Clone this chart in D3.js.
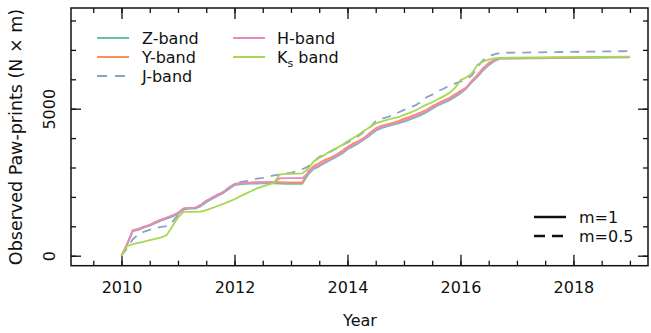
<!DOCTYPE html>
<html>
<head>
<meta charset="utf-8">
<script src="https://cdn.jsdelivr.net/npm/d3@7"></script>
<style>
  body { margin: 0; background: #fff; }
  svg text { font-family: "DejaVu Sans", sans-serif; fill: #111; }
</style>
</head>
<body>
<svg id="chart" width="651" height="333"></svg>
<script>
// time grid: every 0.1 yr from 2010.0 to 2016.7, then the end of the plateau
const years = d3.range(68).map(i => +(2010 + i / 10).toFixed(1)).concat([2019.0]);

const zBand = [0, 380, 840, 880, 960, 1020, 1110, 1190, 1260, 1330,
  1420, 1570, 1600, 1600, 1680, 1820, 1930, 2030, 2130, 2270,
  2400, 2430, 2440, 2450, 2455, 2460, 2460, 2460, 2450, 2445,
  2445, 2445, 2445, 2750, 2950, 3040, 3150, 3260, 3360, 3470,
  3620, 3720, 3830, 3960, 4100, 4250, 4340, 4400, 4450, 4500,
  4560, 4630, 4700, 4780, 4880, 5000, 5110, 5200, 5280, 5400,
  5520, 5680, 5900, 6080, 6300, 6480, 6620, 6700, 6750];

const yBand = [0, 400, 870, 910, 990, 1050, 1150, 1230, 1300, 1370,
  1460, 1610, 1630, 1630, 1720, 1870, 1970, 2070, 2170, 2310,
  2440, 2470, 2480, 2490, 2500, 2500, 2500, 2510, 2500, 2490,
  2490, 2490, 2490, 2850, 3050, 3150, 3260, 3340, 3430, 3560,
  3700, 3820, 3900, 4020, 4180, 4330, 4420, 4470, 4520, 4580,
  4660, 4720, 4800, 4880, 4960, 5080, 5180, 5280, 5360, 5480,
  5600, 5720, 5950, 6150, 6380, 6560, 6650, 6720, 6760];

const jBand = [0, 250, 560, 720, 820, 880, 940, 980, 1010, 1150,
  1380, 1590, 1620, 1630, 1720, 1870, 1970, 2070, 2170, 2310,
  2440, 2500, 2540, 2580, 2620, 2650, 2690, 2730, 2760, 2790,
  2820, 2870, 2940, 3030, 3200, 3360, 3440, 3540, 3640, 3750,
  3850, 3960, 4080, 4220, 4360, 4580, 4650, 4710, 4780, 4870,
  4960, 5040, 5110, 5230, 5390, 5480, 5600, 5680, 5780, 5850,
  5920, 6010, 6120, 6420, 6650, 6780, 6850, 6900, 6960];

const hBand = [0, 390, 860, 900, 980, 1040, 1140, 1220, 1290, 1360,
  1450, 1600, 1620, 1620, 1710, 1860, 1960, 2060, 2160, 2300,
  2430, 2460, 2470, 2480, 2490, 2490, 2500, 2510, 2630, 2640,
  2640, 2640, 2640, 2800, 2990, 3080, 3190, 3290, 3390, 3510,
  3650, 3760, 3860, 3990, 4140, 4290, 4380, 4430, 4480, 4530,
  4600, 4670, 4750, 4830, 4920, 5040, 5140, 5240, 5320, 5440,
  5560, 5700, 5920, 6110, 6340, 6520, 6640, 6710, 6760];

const ksBand = [0, 330, 390, 440, 480, 530, 570, 620, 700, 1000,
  1300, 1490, 1490, 1490, 1500, 1550, 1620, 1690, 1760, 1840,
  1920, 2020, 2110, 2200, 2290, 2360, 2420, 2480, 2760, 2780,
  2780, 2790, 2800, 2950, 3200, 3320, 3430, 3560, 3650, 3760,
  3890, 4000, 4120, 4260, 4380, 4500, 4560, 4620, 4670, 4710,
  4790, 4860, 4940, 5040, 5140, 5220, 5320, 5420, 5530, 5700,
  5970, 6060, 6200, 6490, 6600, 6670, 6710, 6730, 6770];

const seriesNames = ["Z-band", "Y-band", "J-band", "H-band", "Ks band"];
const seriesColors = ["#66c2a5", "#fc8d62", "#8da0cb", "#e78ac3", "#a6d854"];
const seriesValues = [zBand, yBand, jBand, hBand, ksBand];
const xMajor = [2010, 2012, 2014, 2016, 2018];
const yMajor = [0, 5000];

const svg = d3.select("#chart");
const plotLeft = 71, plotRight = 648, plotTop = 8, plotBottom = 265.7;

const x = d3.scaleLinear().domain([2009.106, 2019.32]).range([plotLeft, plotRight]);
const y = d3.scaleLinear().domain([-340, 8425]).range([plotBottom, plotTop]);

// minor ticks on all four sides, pointing inward
const xMinor = d3.range(2009.5, 2019.01, 0.5);
const yMinor = d3.range(0, 8001, 1000);

svg.append("g").attr("transform", `translate(0,${plotBottom})`)
  .call(d3.axisBottom(x).tickValues(xMinor).tickSize(-5).tickFormat(""));
svg.append("g").attr("transform", `translate(0,${plotTop})`)
  .call(d3.axisTop(x).tickValues(xMinor).tickSize(-5).tickFormat(""));
svg.append("g").attr("transform", `translate(${plotLeft},0)`)
  .call(d3.axisLeft(y).tickValues(yMinor).tickSize(-5).tickFormat(""));
svg.append("g").attr("transform", `translate(${plotRight},0)`)
  .call(d3.axisRight(y).tickValues(yMinor).tickSize(-5).tickFormat(""));

// major ticks
const xAxis = svg.append("g").attr("transform", `translate(0,${plotBottom})`)
  .call(d3.axisBottom(x).tickValues(xMajor).tickSize(-11).tickPadding(16).tickFormat(d3.format("d")));
svg.append("g").attr("transform", `translate(0,${plotTop})`)
  .call(d3.axisTop(x).tickValues(xMajor).tickSize(-11).tickFormat(""));
const yAxis = svg.append("g").attr("transform", `translate(${plotLeft},0)`)
  .call(d3.axisLeft(y).tickValues(yMajor).tickSize(-10).tickFormat(d3.format("d")));
svg.append("g").attr("transform", `translate(${plotRight},0)`)
  .call(d3.axisRight(y).tickValues(yMajor).tickSize(-10).tickFormat(""));

svg.selectAll(".domain").remove();
svg.selectAll(".tick line").attr("stroke", "#111").attr("stroke-width", 1.3);

xAxis.selectAll("text").attr("font-size", 16).attr("fill", "#111")
  .style("font-family", "DejaVu Sans");
yAxis.selectAll("text")
  .attr("x", null).attr("dy", null)
  .attr("text-anchor", "middle")
  .attr("transform", "translate(-16,0) rotate(-90)")
  .attr("font-size", 16).attr("fill", "#111")
  .style("font-family", "DejaVu Sans");

// frame
svg.append("rect")
  .attr("x", plotLeft).attr("y", plotTop)
  .attr("width", plotRight - plotLeft).attr("height", plotBottom - plotTop)
  .attr("fill", "none").attr("stroke", "#111").attr("stroke-width", 1.5);

// lines
const line = d3.line()
  .x((d, i) => x(years[i]))
  .y(d => y(d));

seriesValues.forEach((vals, k) => {
  svg.append("path")
    .datum(vals)
    .attr("d", line)
    .attr("fill", "none")
    .attr("stroke", seriesColors[k])
    .attr("stroke-width", 1.8)
    .attr("stroke-linejoin", "round")
    .attr("stroke-dasharray", seriesNames[k] === "J-band" ? "9,7" : null);
});

// axis titles
svg.append("text")
  .attr("x", (plotLeft + plotRight) / 2 + 0.5).attr("y", 326)
  .attr("text-anchor", "middle").attr("font-size", 16)
  .text("Year");

svg.append("text")
  .attr("transform", "translate(22,137) rotate(-90)")
  .attr("text-anchor", "middle").attr("font-size", 17.5)
  .text("Observed Paw-prints (N \u00d7 m)");

// band legend
const legendPos = [[97, 38], [97, 57], [97, 76], [233, 38], [233, 57]];
seriesNames.forEach((name, k) => {
  const [lx, ly] = legendPos[k];
  svg.append("line")
    .attr("x1", lx).attr("x2", lx + 32).attr("y1", ly).attr("y2", ly)
    .attr("stroke", seriesColors[k]).attr("stroke-width", 2)
    .attr("stroke-dasharray", name === "J-band" ? "10,8" : null);
  const t = svg.append("text")
    .attr("x", lx + (k < 3 ? 45 : 44)).attr("y", ly + 6)
    .attr("font-size", 16);
  if (name === "Ks band") {
    t.append("tspan").text("K");
    t.append("tspan").attr("font-size", 11).attr("dy", 4).text("s");
    t.append("tspan").attr("dy", -4).text(" band");
  } else {
    t.text(name);
  }
});

// line-style legend
const styleNames = ["m=1", "m=0.5"];
styleNames.forEach((name, k) => {
  const ly = 217 + k * 19;
  svg.append("line")
    .attr("x1", 534).attr("x2", 566).attr("y1", ly).attr("y2", ly)
    .attr("stroke", "#111").attr("stroke-width", 2.5)
    .attr("stroke-dasharray", k === 1 ? "11,7" : null);
  svg.append("text")
    .attr("x", 579).attr("y", ly + 6).attr("font-size", 16)
    .text(name);
});
</script>
</body>
</html>
